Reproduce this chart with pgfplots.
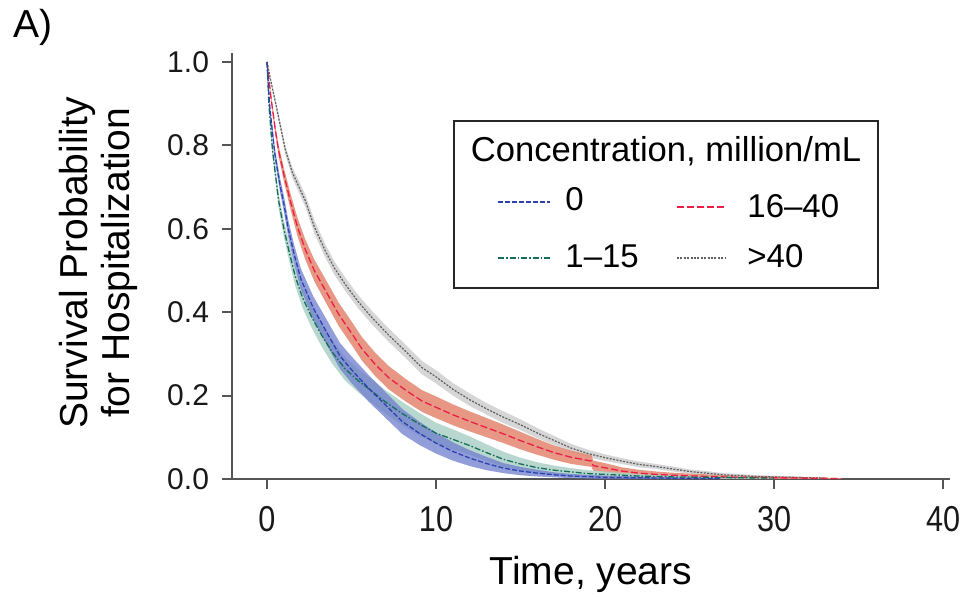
\documentclass[border=0pt]{standalone}
\usepackage{pgfplots}
\pgfplotsset{compat=1.18}
\usepackage{pgfplotstable}
\usepgfplotslibrary{fillbetween}
\usepackage{fontspec}
\setmainfont{Liberation Sans}
\usepackage{graphicx}

\definecolor{axcol}{RGB}{85,85,85}
\definecolor{blueln}{RGB}{45,65,175}
\definecolor{blueband}{RGB}{110,125,205}
\definecolor{greenln}{RGB}{20,110,90}
\definecolor{greenband}{RGB}{172,208,198}
\definecolor{redln}{RGB}{235,30,70}
\definecolor{redband}{RGB}{228,140,118}
\definecolor{grayln}{RGB}{95,95,95}
\definecolor{grayband}{RGB}{210,210,210}

\pgfplotstableread{
t S lo hi
0 1.000 1.000 1.000
0.25 0.950 0.945 0.955
0.57 0.890 0.882 0.898
1.08 0.790 0.779 0.801
1.5 0.735 0.722 0.748
2.27 0.667 0.652 0.682
2.8 0.605 0.589 0.621
3.45 0.547 0.531 0.563
4.0 0.505 0.489 0.521
4.63 0.467 0.451 0.483
5.4 0.425 0.409 0.441
6.21 0.387 0.371 0.403
7.2 0.345 0.329 0.361
8.18 0.307 0.291 0.323
9.17 0.267 0.251 0.283
10.0 0.245 0.229 0.261
11.0 0.215 0.200 0.230
12.0 0.190 0.175 0.205
13.0 0.168 0.154 0.182
14.0 0.148 0.134 0.162
15.0 0.130 0.117 0.143
16.0 0.110 0.098 0.122
17.0 0.092 0.081 0.103
18.0 0.074 0.064 0.084
19.0 0.061 0.052 0.070
20.0 0.051 0.043 0.059
21.0 0.043 0.036 0.050
22.0 0.035 0.028 0.042
23.0 0.030 0.024 0.036
24.0 0.024 0.018 0.030
25.0 0.018 0.013 0.023
26.0 0.014 0.009 0.019
27.0 0.010 0.006 0.014
28.0 0.008 0.004 0.012
29.0 0.006 0.003 0.009
30.0 0.005 0.002 0.008
31.0 0.004 0.001 0.007
32.0 0.003 0.001 0.005
33.0 0.002 0.000 0.004
}\grayT

\pgfplotstableread{
t S lo hi
0 1.000 1.000 1.000
0.25 0.910 0.902 0.918
0.5 0.835 0.824 0.846
0.69 0.787 0.774 0.800
1.0 0.730 0.714 0.746
1.38 0.667 0.648 0.686
1.8 0.605 0.583 0.627
2.27 0.550 0.526 0.574
2.8 0.500 0.474 0.526
3.35 0.460 0.433 0.487
4.24 0.395 0.367 0.423
5.0 0.350 0.322 0.378
5.62 0.312 0.284 0.340
6.4 0.275 0.247 0.303
7.2 0.243 0.215 0.271
8.2 0.213 0.186 0.240
9.17 0.187 0.161 0.213
10.0 0.172 0.146 0.198
11.0 0.154 0.129 0.179
12.0 0.138 0.114 0.162
13.0 0.123 0.100 0.146
14.0 0.108 0.086 0.130
15.0 0.092 0.071 0.113
16.0 0.077 0.058 0.096
17.0 0.063 0.046 0.080
18.0 0.052 0.036 0.068
19.2 0.043 0.029 0.057
19.3 0.032 0.020 0.044
20.0 0.027 0.016 0.038
21.0 0.019 0.010 0.028
22.0 0.014 0.006 0.022
23.0 0.011 0.004 0.018
24.0 0.009 0.003 0.015
26.0 0.006 0.002 0.011
28.0 0.004 0.001 0.008
30.0 0.003 0.000 0.006
32.0 0.002 0.000 0.004
34.0 0.001 0.000 0.002
}\redT

\pgfplotstableread{
t S lo hi
0 1.000 1.000 1.000
0.16 0.894 0.885 0.903
0.3 0.840 0.828 0.852
0.47 0.778 0.764 0.792
0.77 0.705 0.688 0.722
1.0 0.660 0.641 0.679
1.26 0.600 0.579 0.621
1.6 0.540 0.517 0.563
2.0 0.480 0.455 0.505
2.74 0.410 0.382 0.438
3.53 0.352 0.322 0.382
4.32 0.295 0.264 0.326
5.0 0.262 0.230 0.294
6.0 0.218 0.186 0.250
7.0 0.178 0.147 0.209
8.0 0.138 0.108 0.168
9.0 0.110 0.082 0.138
10.0 0.086 0.061 0.111
11.0 0.066 0.044 0.088
12.0 0.050 0.031 0.069
13.0 0.037 0.021 0.053
14.0 0.026 0.014 0.038
15.0 0.019 0.009 0.029
16.0 0.014 0.006 0.022
17.0 0.010 0.004 0.016
18.0 0.007 0.002 0.012
20.0 0.004 0.000 0.008
22.0 0.003 0.000 0.006
24.0 0.002 0.000 0.004
26.8 0.001 0.000 0.002
}\blueT

\pgfplotstableread{
t S lo hi
0 1.000 1.000 1.000
0.12 0.894 0.886 0.902
0.33 0.787 0.774 0.800
0.69 0.667 0.650 0.684
1.0 0.600 0.580 0.620
1.28 0.550 0.529 0.571
1.68 0.485 0.462 0.508
2.1 0.435 0.411 0.459
2.66 0.387 0.361 0.413
3.23 0.345 0.318 0.372
3.85 0.305 0.277 0.333
4.6 0.265 0.237 0.293
5.42 0.235 0.207 0.263
6.0 0.217 0.189 0.245
7.0 0.185 0.157 0.213
8.0 0.157 0.129 0.185
9.0 0.132 0.105 0.159
10.0 0.110 0.085 0.135
11.0 0.095 0.071 0.119
12.0 0.080 0.058 0.102
13.0 0.063 0.043 0.083
14.0 0.047 0.029 0.065
15.0 0.036 0.021 0.051
16.0 0.027 0.014 0.040
17.0 0.021 0.010 0.032
18.0 0.017 0.008 0.026
19.0 0.013 0.005 0.021
20.0 0.011 0.004 0.018
22.0 0.007 0.002 0.012
24.0 0.005 0.001 0.009
26.0 0.004 0.001 0.007
28.0 0.003 0.000 0.006
30.0 0.002 0.000 0.004
}\greenT

\tikzset{
  bluestyle/.style={blueln, line width=0.65pt, dash pattern=on 2.5pt off 1pt},
  greenstyle/.style={greenln, line width=0.65pt, dash pattern=on 3pt off 1pt on 0.8pt off 1pt},
  redstyle/.style={redln, line width=0.65pt, dash pattern=on 3.5pt off 1.5pt},
  graystyle/.style={grayln, line width=0.6pt, dash pattern=on 1pt off 0.7pt},
}

\begin{document}
\begin{tikzpicture}
\path (0,0) rectangle (484.5pt,298.5pt);
\begin{axis}[
  at={(116pt,59pt)}, anchor=south west,
  width=359pt, height=213pt, scale only axis,
  xmin=-2.07, xmax=40.41, ymin=0, ymax=1.0216,
  axis x line=bottom, axis y line=left,
  axis line style={-, draw=axcol, line width=1pt},
  xtick={0,10,20,30,40},
  xticklabels={\scalebox{0.85}[1]{0},\scalebox{0.85}[1]{10},\scalebox{0.85}[1]{20},\scalebox{0.85}[1]{30},\scalebox{0.85}[1]{40}},
  ytick={0,0.2,0.4,0.6,0.8,1.0},
  yticklabels={0.0,0.2,0.4,0.6,0.8,1.0},
  tick align=outside, major tick length=5pt,
  tick style={draw=axcol, line width=1pt},
  xticklabel style={font=\fontsize{18}{20}\selectfont, color=black!90, yshift=-5pt},
  yticklabel style={font=\fontsize{15}{18}\selectfont, color=black!90, xshift=-3pt},
  /pgf/number format/assume math mode=true,
  clip=false,
]
% bands
\addplot[draw=none, name path=gh] table[x=t,y=hi]{\grayT};
\addplot[draw=none, name path=gl] table[x=t,y=lo]{\grayT};
\addplot[fill=grayband, fill opacity=0.9, draw=none] fill between[of=gh and gl];
\addplot[draw=none, name path=rh] table[x=t,y=hi]{\redT};
\addplot[draw=none, name path=rl] table[x=t,y=lo]{\redT};
\addplot[fill=redband, fill opacity=0.9, draw=none] fill between[of=rh and rl];
\addplot[draw=none, name path=grh] table[x=t,y=hi]{\greenT};
\addplot[draw=none, name path=grl] table[x=t,y=lo]{\greenT};
\addplot[fill=greenband, fill opacity=0.85, draw=none] fill between[of=grh and grl];
\addplot[draw=none, name path=bh] table[x=t,y=hi]{\blueT};
\addplot[draw=none, name path=bl] table[x=t,y=lo]{\blueT};
\addplot[fill=blueband, fill opacity=0.75, draw=none] fill between[of=bh and bl];
% lines
\addplot[graystyle] table[x=t,y=S]{\grayT};
\addplot[redstyle] table[x=t,y=S]{\redT};
\addplot[greenstyle] table[x=t,y=S]{\greenT};
\addplot[bluestyle] table[x=t,y=S]{\blueT};
\end{axis}
\begin{scope}[x=0.5pt, y=-0.5pt, yshift=298.5pt]
  \node[anchor=base west, inner sep=0pt, font=\fontsize{19.5}{22}\selectfont] at (13,38) {A)};
  \node[anchor=base, inner sep=0pt, font=\fontsize{19.5}{22}\selectfont] at (591,585) {Time, years};
  \node[anchor=base, inner sep=0pt, rotate=90, font=\fontsize{19.5}{22}\selectfont] at (87,263) {Survival Probability};
  \node[anchor=base, inner sep=0pt, rotate=90, font=\fontsize{19.5}{22}\selectfont] at (129,263) {for Hospitalization};
  % legend
  \draw[black!85, line width=1.4pt] (454,121) rectangle (878,288);
  \node[anchor=base, inner sep=0pt, font=\fontsize{17.3}{20}\selectfont] at (666,162) {Concentration, million/mL};
  \draw[bluestyle] (498,202) -- (550,202);
  \node[anchor=base west, inner sep=0pt, font=\fontsize{16.5}{20}\selectfont] at (565,211) {0};
  \draw[greenstyle] (498,258) -- (550,258);
  \node[anchor=base west, inner sep=0pt, font=\fontsize{16.5}{20}\selectfont] at (565,268) {1--15};
  \draw[redstyle] (677,207) -- (725,207);
  \node[anchor=base west, inner sep=0pt, font=\fontsize{16.5}{20}\selectfont] at (747,218) {16--40};
  \draw[graystyle] (677,258) -- (725,258);
  \node[anchor=base west, inner sep=0pt, font=\fontsize{16.5}{20}\selectfont] at (747,268) {>40};
\end{scope}
\pgfresetboundingbox
\path[use as bounding box] (0,0) rectangle (484.5pt,298.5pt);
\end{tikzpicture}
\end{document}
